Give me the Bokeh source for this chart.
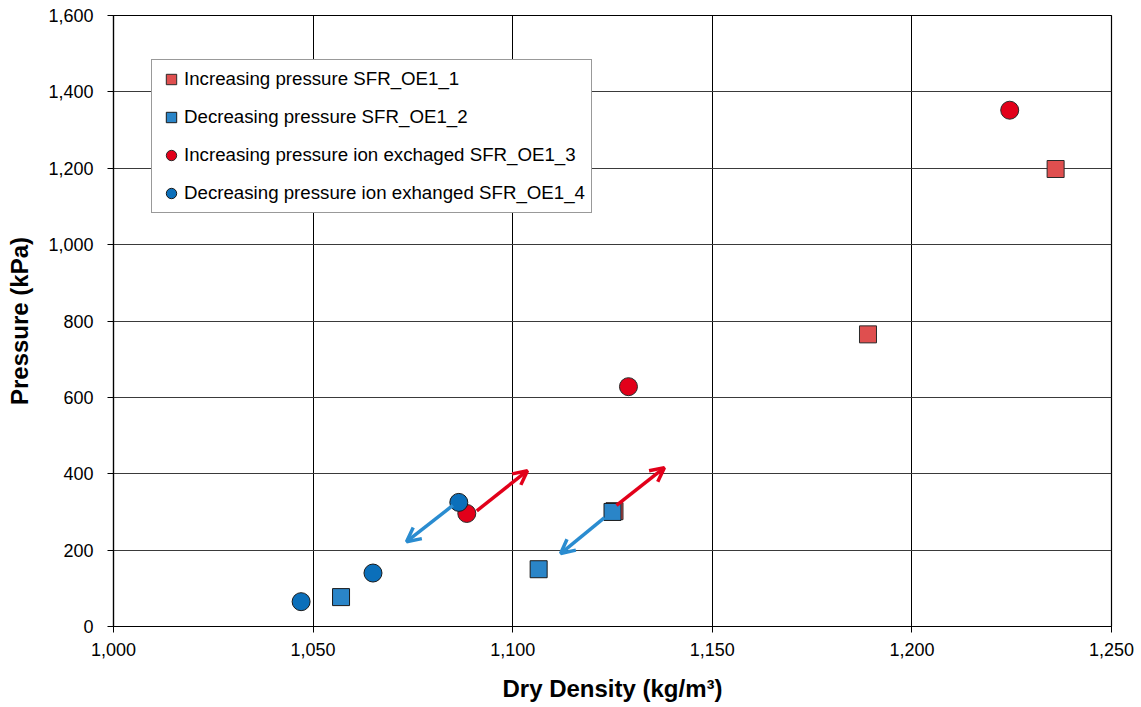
from bokeh.plotting import figure
from bokeh.models import (Legend, LegendItem, NumeralTickFormatter, Range1d,
                          Arrow, OpenHead, FixedTicker)
from bokeh.embed import file_html
from bokeh.resources import INLINE

# Data
sq_inc_x = [1125.5, 1189, 1236]
sq_inc_y = [302, 765, 1198]
sq_dec_x = [1057, 1106.5, 1125]
sq_dec_y = [77, 150, 300]
ci_inc_x = [1088.5, 1129, 1224.5]
ci_inc_y = [296, 628, 1352]
ci_dec_x = [1047, 1065, 1086.5]
ci_dec_y = [65, 140, 325]

labels = ["Increasing pressure SFR_OE1_1",
          "Decreasing pressure SFR_OE1_2",
          "Increasing pressure ion exchaged SFR_OE1_3",
          "Decreasing pressure ion exhanged SFR_OE1_4"]

# annotation arrows: (x_start, y_start, x_end, y_end)
red_arrows = [(1091, 303, 1103.7, 408), (1126, 317, 1138, 416)]
blue_arrows = [(1085, 317, 1073.4, 222), (1123, 285, 1112, 191)]

x_ticks = [1000, 1050, 1100, 1150, 1200, 1250]
y_ticks = [0, 200, 400, 600, 800, 1000, 1200, 1400, 1600]

FONT = "Liberation Sans"

p = figure(width=1141, height=707, output_backend="svg", toolbar_location=None,
           x_range=Range1d(1000, 1250), y_range=Range1d(0, 1600),
           min_border_left=113, min_border_right=30, min_border_top=15,
           min_border_bottom=81)
p.background_fill_color = "white"
p.border_fill_color = "white"
p.outline_line_color = "black"
p.outline_line_width = 1.2

p.xaxis.ticker = FixedTicker(ticks=x_ticks)
p.yaxis.ticker = FixedTicker(ticks=y_ticks)
p.xaxis.formatter = NumeralTickFormatter(format="0,0")
p.yaxis.formatter = NumeralTickFormatter(format="0,0")
for ax in (p.xaxis, p.yaxis):
    ax.major_label_text_font = FONT
    ax.major_label_text_font_size = "18px"
    ax.major_label_text_color = "black"
    ax.axis_line_color = "black"
    ax.axis_line_width = 1.2
    ax.major_tick_line_color = "black"
    ax.major_tick_out = 6
    ax.major_tick_in = 0
    ax.minor_tick_line_color = None
    ax.axis_label_text_font = FONT
    ax.axis_label_text_font_style = "bold"
    ax.axis_label_text_font_size = "24px"
    ax.axis_label_text_color = "black"
p.xaxis.axis_label = "Dry Density (kg/m³)"
p.yaxis.axis_label = "Pressure (kPa)"
p.xaxis.major_label_standoff = 10
p.xaxis.axis_label_standoff = 16
p.yaxis.major_label_standoff = 14
p.yaxis.axis_label_standoff = 12

p.xgrid.grid_line_color = "black"
p.xgrid.grid_line_width = 1
p.ygrid.grid_line_color = "#3a3a3a"
p.ygrid.grid_line_width = 1.2

r1 = p.scatter(sq_inc_x, sq_inc_y, marker="square", size=17,
               fill_color="#DF4F4F", line_color="#2a2a2a", line_width=1)
r3 = p.scatter(ci_inc_x, ci_inc_y, marker="circle", size=18,
               fill_color="#E2001A", line_color="#2a2a2a", line_width=1)
r2 = p.scatter(sq_dec_x, sq_dec_y, marker="square", size=17,
               fill_color="#2A85C8", line_color="#1a1a1a", line_width=1)
r4 = p.scatter(ci_dec_x, ci_dec_y, marker="circle", size=18,
               fill_color="#0B6FBA", line_color="#1a1a1a", line_width=1)

for (xs, ys, xe, ye) in red_arrows:
    p.add_layout(Arrow(end=OpenHead(size=14, line_color="#E2001A", line_width=3.5),
                       x_start=xs, y_start=ys, x_end=xe, y_end=ye,
                       line_color="#E2001A", line_width=3.5))
for (xs, ys, xe, ye) in blue_arrows:
    p.add_layout(Arrow(end=OpenHead(size=14, line_color="#2A8CD0", line_width=3.5),
                       x_start=xs, y_start=ys, x_end=xe, y_end=ye,
                       line_color="#2A8CD0", line_width=3.5))

legend = Legend(items=[LegendItem(label=labels[0], renderers=[r1]),
                       LegendItem(label=labels[1], renderers=[r2]),
                       LegendItem(label=labels[2], renderers=[r3]),
                       LegendItem(label=labels[3], renderers=[r4])],
                location=(38, 413))
legend.label_text_font = FONT
legend.label_text_font_size = "18.7px"
legend.label_text_color = "black"
legend.border_line_color = "#333333"
legend.border_line_width = 1
legend.background_fill_alpha = 1
legend.glyph_width = 26
legend.glyph_height = 26
legend.label_height = 26
legend.spacing = 12
legend.padding = 6
legend.margin = 0
legend.label_standoff = -5
p.add_layout(legend)

open("out.html", "w").write(file_html(p, INLINE))
